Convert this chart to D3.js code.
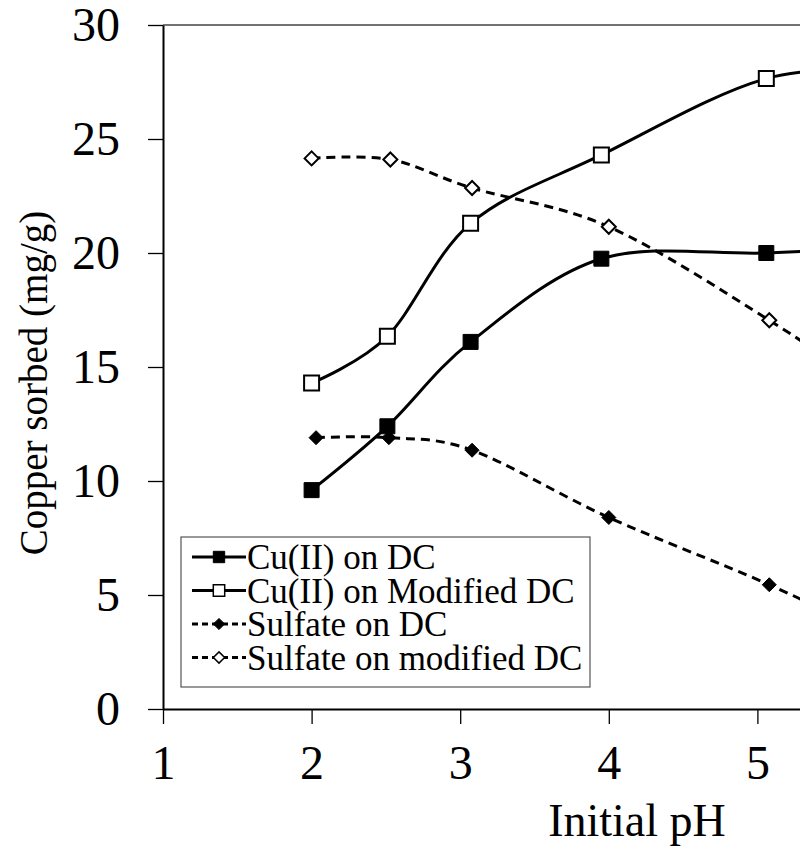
<!DOCTYPE html>
<html>
<head>
<meta charset="utf-8">
<script src="https://cdn.jsdelivr.net/npm/d3@7"></script>
<style>
  body { margin: 0; background: #fff; }
  text { font-family: "Liberation Serif", "Times New Roman", serif; fill: #000; }
</style>
</head>
<body>
<div id="okvir"></div>
<script>
// podaci ocitani sa slike (zadnja tocka je izvan vidljivog dijela)
const cuDC = [[2.0, 9.6], [2.51, 12.4], [3.07, 16.1], [3.95, 19.75], [5.06, 20.0], [6.0, 20.3]]
const cuModDC = [[2.0, 14.3], [2.51, 16.35], [3.07, 21.3], [3.95, 24.3], [5.06, 27.65], [6.0, 28.0]]
const sulfatDC = [[2.03, 11.9], [2.52, 11.9], [3.08, 11.35], [4.0, 8.4], [5.08, 5.45], [6.0, 2.6]]
const sulfatModDC = [[2.0, 24.15], [2.53, 24.1], [3.08, 22.85], [4.0, 21.15], [5.08, 17.05], [6.0, 13.0]]

const serije = [
  { ime: "Cu(II) on DC", podaci: cuDC, oblik: "square", puni: true, crtkano: false },
  { ime: "Cu(II) on Modified DC", podaci: cuModDC, oblik: "square", puni: false, crtkano: false },
  { ime: "Sulfate on DC", podaci: sulfatDC, oblik: "diamond", puni: true, crtkano: true },
  { ime: "Sulfate on modified DC", podaci: sulfatModDC, oblik: "diamond", puni: false, crtkano: true },
]

const xTicks = [1, 2, 3, 4, 5]
const yTicks = [0, 5, 10, 15, 20, 25, 30]

const dimenzije = {
  sirina: 800,
  visina: 847,
  margine: { top: 25, left: 163, bottom: 138 },
}
const x0 = dimenzije.margine.left
const y0 = dimenzije.visina - dimenzije.margine.bottom

const okvir = d3.select("#okvir").append("svg")
  .attr("width", dimenzije.sirina)
  .attr("height", dimenzije.visina)

const xSkala = d3.scaleLinear().domain([1, 7]).range([x0, x0 + 6 * 148.6])
const ySkala = d3.scaleLinear().domain([0, 30]).range([y0, dimenzije.margine.top])

// gornji rub okvira
okvir.append("line")
  .attr("x1", x0).attr("x2", 1000)
  .attr("y1", ySkala(30)).attr("y2", ySkala(30))
  .attr("stroke", "#444").attr("stroke-width", 1.5)

// osi
const xOs = okvir.append("g")
  .attr("transform", `translate(0,${y0})`)
  .call(d3.axisBottom(xSkala).tickValues(xTicks).tickFormat(d3.format("d"))
    .tickSize(15).tickSizeOuter(0).tickPadding(21))
xOs.select(".domain").attr("stroke-width", 2)
xOs.selectAll(".tick line").attr("stroke-width", 1.3)
xOs.selectAll(".tick text").style("font-size", "48px").attr("font-family", null)

const yOs = okvir.append("g")
  .attr("transform", `translate(${x0},0)`)
  .call(d3.axisLeft(ySkala).tickValues(yTicks).tickSize(15).tickSizeOuter(0).tickPadding(28))
yOs.select(".domain").attr("stroke-width", 2)
yOs.selectAll(".tick line").attr("stroke-width", 1.3)
yOs.selectAll(".tick text").style("font-size", "48px").attr("font-family", null)

// nazivi osi
okvir.append("text")
  .attr("x", 637).attr("y", 836)
  .attr("text-anchor", "middle")
  .style("font-size", "46px")
  .text("Initial pH")

okvir.append("text")
  .attr("transform", `translate(47,383) rotate(-90)`)
  .attr("text-anchor", "middle")
  .style("font-size", "39px")
  .text("Copper sorbed (mg/g)")

const granice = okvir.append("g")

const linija = d3.line()
  .x(d => xSkala(d[0]))
  .y(d => ySkala(d[1]))
  .curve(d3.curveCardinal.tension(0))

const simbol = (oblik, vel) => oblik === "square"
  ? d3.symbol(d3.symbolSquare, vel)
  : d3.symbol(d3.symbolDiamond2, vel)

serije.forEach(s => {
  granice.append("path")
    .datum(s.podaci)
    .attr("d", linija)
    .attr("fill", "none")
    .attr("stroke", "#000")
    .attr("stroke-width", 3)
    .attr("stroke-dasharray", s.crtkano ? "9,6" : null)

  granice.selectAll(null)
    .data(s.podaci)
    .join("path")
    .attr("transform", d => `translate(${xSkala(d[0])},${ySkala(d[1])})`)
    .attr("d", simbol(s.oblik, s.oblik === "square" ? 225 : 125))
    .attr("fill", s.puni ? "#000" : "#fff")
    .attr("stroke", "#000")
    .attr("stroke-width", s.puni ? 1 : 2)
})

// legenda
const legenda = okvir.append("g").attr("transform", "translate(181,537)")
legenda.append("rect")
  .attr("width", 409).attr("height", 150)
  .attr("fill", "#fff").attr("stroke", "#555").attr("stroke-width", 1.2)

serije.forEach((s, i) => {
  const red = legenda.append("g").attr("transform", `translate(0,${20 + i * 33.5})`)
  red.append("line")
    .attr("x1", 11).attr("x2", 65)
    .attr("stroke", "#000").attr("stroke-width", 3)
    .attr("stroke-dasharray", s.crtkano ? "6,4" : null)
  red.append("path")
    .attr("transform", "translate(38,0)")
    .attr("d", simbol(s.oblik, s.oblik === "square" ? 130 : 80))
    .attr("fill", s.puni ? "#000" : "#fff")
    .attr("stroke", "#000")
    .attr("stroke-width", s.puni ? 1 : 1.5)
  red.append("text")
    .attr("x", 66).attr("y", 12)
    .style("font-size", "35px")
    .text(s.ime)
})
</script>
</body>
</html>
